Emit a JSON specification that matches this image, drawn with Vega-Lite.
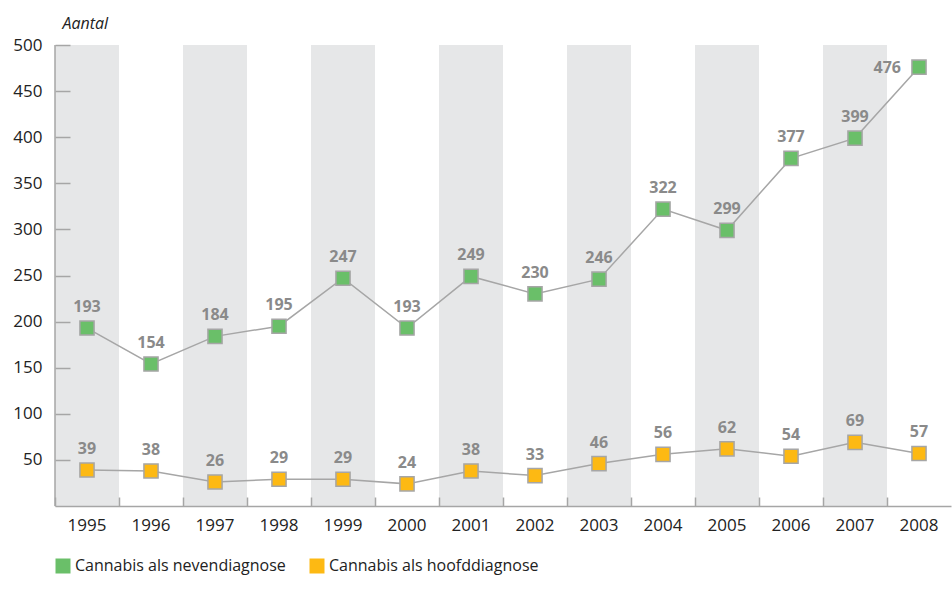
{
  "$schema": "https://vega.github.io/schema/vega-lite/v6.json",
  "width": 896,
  "height": 461,
  "autosize": {"type": "none"},
  "padding": {"left": 55, "top": 45, "right": 1, "bottom": 93},
  "background": "white",
  "config": {
    "font": "Open Sans",
    "view": {"stroke": null}
  },
  "datasets": {
    "bands": [
      {"year": "1995"}, {"year": "1997"}, {"year": "1999"}, {"year": "2001"},
      {"year": "2003"}, {"year": "2005"}, {"year": "2007"}
    ],
    "series": [
      {"year": "1995", "serie": "Cannabis als nevendiagnose", "aantal": 193},
      {"year": "1996", "serie": "Cannabis als nevendiagnose", "aantal": 154},
      {"year": "1997", "serie": "Cannabis als nevendiagnose", "aantal": 184},
      {"year": "1998", "serie": "Cannabis als nevendiagnose", "aantal": 195},
      {"year": "1999", "serie": "Cannabis als nevendiagnose", "aantal": 247},
      {"year": "2000", "serie": "Cannabis als nevendiagnose", "aantal": 193},
      {"year": "2001", "serie": "Cannabis als nevendiagnose", "aantal": 249},
      {"year": "2002", "serie": "Cannabis als nevendiagnose", "aantal": 230},
      {"year": "2003", "serie": "Cannabis als nevendiagnose", "aantal": 246},
      {"year": "2004", "serie": "Cannabis als nevendiagnose", "aantal": 322},
      {"year": "2005", "serie": "Cannabis als nevendiagnose", "aantal": 299},
      {"year": "2006", "serie": "Cannabis als nevendiagnose", "aantal": 377},
      {"year": "2007", "serie": "Cannabis als nevendiagnose", "aantal": 399},
      {"year": "2008", "serie": "Cannabis als nevendiagnose", "aantal": 476},
      {"year": "1995", "serie": "Cannabis als hoofddiagnose", "aantal": 39},
      {"year": "1996", "serie": "Cannabis als hoofddiagnose", "aantal": 38},
      {"year": "1997", "serie": "Cannabis als hoofddiagnose", "aantal": 26},
      {"year": "1998", "serie": "Cannabis als hoofddiagnose", "aantal": 29},
      {"year": "1999", "serie": "Cannabis als hoofddiagnose", "aantal": 29},
      {"year": "2000", "serie": "Cannabis als hoofddiagnose", "aantal": 24},
      {"year": "2001", "serie": "Cannabis als hoofddiagnose", "aantal": 38},
      {"year": "2002", "serie": "Cannabis als hoofddiagnose", "aantal": 33},
      {"year": "2003", "serie": "Cannabis als hoofddiagnose", "aantal": 46},
      {"year": "2004", "serie": "Cannabis als hoofddiagnose", "aantal": 56},
      {"year": "2005", "serie": "Cannabis als hoofddiagnose", "aantal": 62},
      {"year": "2006", "serie": "Cannabis als hoofddiagnose", "aantal": 54},
      {"year": "2007", "serie": "Cannabis als hoofddiagnose", "aantal": 69},
      {"year": "2008", "serie": "Cannabis als hoofddiagnose", "aantal": 57}
    ]
  },
  "encoding": {
    "x": {
      "field": "year",
      "type": "ordinal",
      "scale": {
        "domain": ["1995","1996","1997","1998","1999","2000","2001","2002","2003","2004","2005","2006","2007","2008"],
        "paddingInner": 0,
        "paddingOuter": 0
      }
    }
  },
  "layer": [
    {
      "data": {"name": "bands"},
      "mark": {"type": "rect", "color": "#e6e7e8"},
      "encoding": {
        "x": {
          "field": "year",
          "type": "ordinal",
          "axis": {
            "title": null,
            "zindex": 1,
            "labelAngle": 0,
            "bandPosition": 0,
            "domainColor": "#a6a6a6",
            "domainWidth": 1.5,
            "tickColor": "#a6a6a6",
            "tickWidth": 1.5,
            "tickSize": -9,
            "labelPadding": 20,
            "labelFontSize": 17,
            "labelColor": "#222222",
            "labelFont": "Open Sans",
            "grid": false
          }
        }
      }
    },
    {
      "data": {"values": [{"v": 500}]},
      "mark": {"type": "rule", "color": "#a6a6a6", "strokeWidth": 1.5},
      "encoding": {
        "y": {"field": "v", "type": "quantitative"}
      }
    },
    {
      "data": {"name": "series"},
      "mark": {"type": "line", "color": "#a6a6a6", "strokeWidth": 1.5},
      "encoding": {
        "y": {
          "field": "aantal",
          "type": "quantitative",
          "scale": {"domain": [0, 500], "nice": false},
          "axis": {
            "values": [50, 100, 150, 200, 250, 300, 350, 400, 450, 500],
            "zindex": 1,
            "title": "Aantal",
            "titleAngle": 0,
            "titleAlign": "left",
            "titleBaseline": "alphabetic",
            "titleX": 7,
            "titleY": -17,
            "titleFontStyle": "italic",
            "titleFontWeight": "normal",
            "titleFontSize": 16,
            "titleColor": "#222222",
            "domain": false,
            "grid": false,
            "tickColor": "#a6a6a6",
            "tickWidth": 1.5,
            "tickSize": -15,
            "labelPadding": 28,
            "labelFontSize": 17,
            "labelColor": "#222222"
          }
        },
        "detail": {"field": "serie"}
      }
    },
    {
      "data": {"name": "series"},
      "mark": {"type": "point", "shape": "square", "filled": true, "size": 200, "stroke": "#a6a6a6", "strokeWidth": 1.5, "opacity": 1},
      "encoding": {
        "y": {"field": "aantal", "type": "quantitative"},
        "fill": {
          "field": "serie",
          "type": "nominal",
          "scale": {
            "domain": ["Cannabis als nevendiagnose", "Cannabis als hoofddiagnose"],
            "range": ["#6abf69", "#fdb913"]
          },
          "legend": {
            "title": null,
            "orient": "none",
            "direction": "horizontal",
            "legendX": 0,
            "legendY": 513,
            "symbolType": "square",
            "symbolSize": 225,
            "symbolStrokeWidth": 0,
            "symbolOpacity": 1,
            "labelFontSize": 16,
            "labelLimit": 0,
            "labelColor": "#222222",
            "labelOffset": 4,
            "columnPadding": 23
          }
        }
      }
    },
    {
      "data": {"name": "series"},
      "transform": [{"filter": "!(datum.year == '2008' && datum.aantal > 400)"}],
      "mark": {"type": "text", "dy": -16, "baseline": "alphabetic", "fontWeight": "bold", "fontSize": 16, "color": "#8a8a8a"},
      "encoding": {
        "y": {"field": "aantal", "type": "quantitative"},
        "text": {"field": "aantal", "type": "quantitative"}
      }
    },
    {
      "data": {"name": "series"},
      "transform": [{"filter": "datum.year == '2008' && datum.aantal > 400"}],
      "mark": {"type": "text", "dx": -18, "dy": 6, "align": "right", "baseline": "alphabetic", "fontWeight": "bold", "fontSize": 16, "color": "#8a8a8a"},
      "encoding": {
        "y": {"field": "aantal", "type": "quantitative"},
        "text": {"field": "aantal", "type": "quantitative"}
      }
    }
  ]
}
